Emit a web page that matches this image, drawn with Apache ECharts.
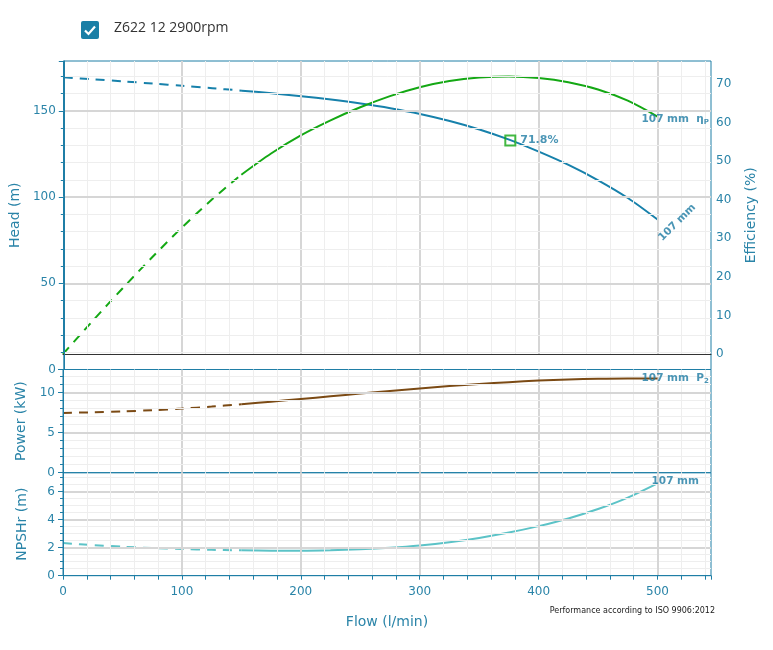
<!DOCTYPE html>
<html>
<head>
<meta charset="utf-8">
<script src="https://cdn.jsdelivr.net/npm/echarts@6/dist/echarts.min.js"></script>
<style>
  html, body { margin: 0; padding: 0; background: #ffffff; }
  #chart { width: 773px; height: 650px; }
</style>
</head>
<body>
<div id="chart"></div>
<script>
// ---- data ----
const flow       = [0, 25, 50, 75, 100, 125, 150, 175, 200, 225, 250, 275, 300, 325, 350, 375, 400, 425, 450, 475, 500];
const head       = [169.5, 168.4, 167.2, 165.9, 164.6, 163.2, 161.8, 160.3, 158.6, 156.6, 154.3, 151.6, 148.3, 144.2, 139.3, 133.4, 126.4, 118.7, 109.8, 99.5, 87.0];
const efficiency = [0, 8.6, 17.0, 25.1, 32.8, 40.0, 46.5, 52.0, 56.7, 60.6, 64.0, 66.9, 69.2, 70.8, 71.7, 72.0, 71.6, 70.5, 68.6, 65.7, 61.6];
const power      = [7.47, 7.55, 7.66, 7.81, 8.01, 8.26, 8.56, 8.88, 9.21, 9.55, 9.89, 10.22, 10.54, 10.83, 11.09, 11.32, 11.51, 11.65, 11.75, 11.79, 11.76];
const npsh       = [2.33, 2.19, 2.07, 1.98, 1.91, 1.85, 1.81, 1.79, 1.79, 1.82, 1.89, 2.00, 2.16, 2.39, 2.70, 3.08, 3.54, 4.09, 4.76, 5.58, 6.6];
const dashedUntil = 150;
const bepFlow = 376, bepHead = 132.9, bepLabel = '71.8%';
const legendText = 'Z622 12 2900rpm';
const curveLabel = '107 mm';
const headTicks = { min: 0, max: 179, interval: 50 };
const effTicks = { min: 0, max: 76, interval: 10 };
const powerTicks = { min: 0, max: 12.9, interval: 5 };
const npshTicks = { min: 0, max: 7.357, interval: 2 };
const flowTicks = { min: 0, max: 545, interval: 100 };

// ---- styles ----
const TEAL = '#1f7ea6';
const LABEL = '#2a84a8';
const CURVE_LABEL = '#1d7aa2';
const MAJOR = '#d6d6d6';
const MINOR = '#eeeeee';
const FONT = 'DejaVu Sans';

function pairs(vals, from, to) {
  const out = [];
  for (let i = 0; i < flow.length; i++) {
    if (flow[i] >= from && flow[i] <= to) out.push([flow[i], vals[i]]);
  }
  return out;
}
function curve(name, vals, color, xi, yi) {
  const common = { type: 'line', xAxisIndex: xi, yAxisIndex: yi, smooth: 0.3,
                   showSymbol: false, silent: true, z: 3 };
  return [
    Object.assign({ name: name + ' dashed', data: pairs(vals, 0, dashedUntil),
      lineStyle: { color: color, width: 2, type: [9, 7] } }, common),
    Object.assign({ name: name, data: pairs(vals, dashedUntil, Infinity),
      lineStyle: { color: color, width: 2 } }, common)
  ];
}
const last = a => a[a.length - 1];
const lblStyle = { color: CURVE_LABEL, fontFamily: FONT, fontWeight: 'bold', fontSize: 10.5 };

function valueX(gi, opts) {
  return Object.assign({
    type: 'value', gridIndex: gi, min: flowTicks.min, max: flowTicks.max, interval: flowTicks.interval,
    axisLine: { show: false }, axisTick: { show: false }, axisLabel: { show: false },
    splitLine: { show: true, showMinLine: false, showMaxLine: false, lineStyle: { color: MAJOR, width: 2 } },
    minorTick: { show: false, splitNumber: 5 },
    minorSplitLine: { show: true, lineStyle: { color: MINOR, width: 1 } }
  }, opts || {});
}
function leftY(gi, t, name, minorSplit, opts) {
  return Object.assign({
    type: 'value', gridIndex: gi, position: 'left', min: t.min, max: t.max, interval: t.interval,
    name: name, nameLocation: 'middle', nameGap: 34,
    nameTextStyle: { color: LABEL, fontFamily: FONT, fontSize: 14 },
    axisLine: { show: true, lineStyle: { color: TEAL, width: 1 } },
    axisTick: { show: true, length: 5, lineStyle: { color: TEAL } },
    minorTick: { show: true, splitNumber: minorSplit, length: 3, lineStyle: { color: TEAL } },
    axisLabel: { color: LABEL, fontFamily: FONT, fontSize: 12, margin: 8, showMaxLabel: false },
    splitLine: { show: true, showMinLine: false, showMaxLine: false, lineStyle: { color: MAJOR, width: 2 } },
    minorSplitLine: { show: true, lineStyle: { color: MINOR, width: 1 } },
    z: 5
  }, opts || {});
}

const chart = echarts.init(document.getElementById('chart'), null, { renderer: 'canvas' });
const option = {
  animation: false,
  backgroundColor: '#ffffff',
  grid: [
    { left: 63, right: 62, top: 61, height: 308.5, show: true, borderColor: TEAL, borderWidth: 1, backgroundColor: 'transparent' },
    { left: 63, right: 62, top: 61, height: 293, show: false },
    { left: 63, right: 62, top: 369.5, height: 103.2, show: true, borderColor: TEAL, borderWidth: 1, backgroundColor: 'transparent' },
    { left: 63, right: 62, top: 472.7, height: 103, show: true, borderColor: TEAL, borderWidth: 1, backgroundColor: 'transparent' }
  ],
  xAxis: [
    { type: 'value', gridIndex: 0, min: flowTicks.min, max: flowTicks.max, show: false },
    valueX(1, { axisLine: { show: true, onZero: false, lineStyle: { color: '#333333', width: 1 } }, z: 4 }),
    valueX(2),
    valueX(3, {
      axisLine: { show: true, onZero: false, lineStyle: { color: TEAL, width: 1 } },
      axisTick: { show: true, length: 4, lineStyle: { color: TEAL } },
      minorTick: { show: true, splitNumber: 5, length: 4, lineStyle: { color: TEAL } },
      axisLabel: { show: true, color: LABEL, fontFamily: FONT, fontSize: 12, margin: 10, showMaxLabel: false },
      name: 'Flow (l/min)', nameLocation: 'middle', nameGap: 40,
      nameTextStyle: { color: LABEL, fontFamily: FONT, fontSize: 14 }, z: 5
    })
  ],
  yAxis: [
    leftY(0, headTicks, 'Head (m)', 5),
    { type: 'value', gridIndex: 1, position: 'right', min: effTicks.min, max: effTicks.max, interval: effTicks.interval,
      axisLine: { show: true, lineStyle: { color: TEAL } }, axisTick: { show: false },
      axisLabel: { color: LABEL, fontFamily: FONT, fontSize: 12, margin: 5, showMaxLabel: false },
      splitLine: { show: false } },
    { type: 'value', gridIndex: 0, position: 'right', min: 0, max: 1,
      name: 'Efficiency (%)', nameLocation: 'middle', nameGap: 33,
      nameTextStyle: { color: LABEL, fontFamily: FONT, fontSize: 14 },
      axisLine: { show: false }, axisTick: { show: false }, axisLabel: { show: false }, splitLine: { show: false } },
    leftY(2, powerTicks, 'Power (kW)', 5),
    leftY(3, npshTicks, 'NPSHr (m)', 4)
  ],
  series: [].concat(
    curve('Head', head, '#1781ab', 0, 0),
    curve('Efficiency', efficiency, '#14a814', 1, 1),
    curve('Power', power, '#7b4a14', 2, 3),
    curve('NPSHr', npsh, '#5cc3c7', 3, 4),
    [
      { type: 'scatter', xAxisIndex: 0, yAxisIndex: 0, silent: true, z: 6,
        data: [[bepFlow, bepHead]], symbol: 'rect', symbolSize: 10,
        itemStyle: { color: 'rgba(255,255,255,0)', borderColor: '#14a814', borderWidth: 2 },
        label: { show: true, position: 'right', distance: 4, formatter: bepLabel,
                 color: CURVE_LABEL, fontFamily: FONT, fontWeight: 'bold', fontSize: 11 } },
      { type: 'scatter', xAxisIndex: 0, yAxisIndex: 0, silent: true, z: 6, symbolSize: 0.1,
        data: [{ value: [last(flow), last(head)],
                 label: Object.assign({ show: true, position: 'right', distance: 0, rotate: 45, offset: [-12, 16], formatter: curveLabel }, lblStyle) }] },
      { type: 'scatter', xAxisIndex: 1, yAxisIndex: 1, silent: true, z: 6, symbolSize: 0.1,
        data: [{ value: [last(flow), last(efficiency)],
                 label: Object.assign({ show: true, position: 'right', distance: 0, offset: [-16, 3],
                   formatter: '{a|' + curveLabel + '  η}{s|P}',
                   rich: { a: lblStyle, s: Object.assign({}, lblStyle, { fontSize: 7, padding: [6, 0, 0, 0] }) } }, lblStyle) }] },
      { type: 'scatter', xAxisIndex: 2, yAxisIndex: 3, silent: true, z: 6, symbolSize: 0.1,
        data: [{ value: [last(flow), last(power)],
                 label: Object.assign({ show: true, position: 'right', distance: 0, offset: [-16, 0],
                   formatter: '{a|' + curveLabel + '  P}{s|2}',
                   rich: { a: lblStyle, s: Object.assign({}, lblStyle, { fontSize: 7, padding: [6, 0, 0, 0] }) } }, lblStyle) }] },
      { type: 'scatter', xAxisIndex: 3, yAxisIndex: 4, silent: true, z: 6, symbolSize: 0.1,
        data: [{ value: [last(flow), last(npsh)],
                 label: Object.assign({ show: true, position: 'right', distance: 0, offset: [-6, -2], formatter: curveLabel }, lblStyle) }] }
    ]
  ),
  graphic: [
    { type: 'rect', left: 81, top: 21, shape: { width: 18, height: 18, r: 2 }, style: { fill: '#1a7fa6' } },
    { type: 'polyline', shape: { points: [[85, 30.5], [88.5, 34], [95, 26.5]] },
      style: { stroke: '#ffffff', lineWidth: 2.2, fill: null } },
    { type: 'text', left: 114, top: 21, style: { text: legendText, fill: '#333333', font: '14px "Open Sans"' } },
    { type: 'text', right: 58, top: 607, style: { text: 'Performance according to ISO 9906:2012', fill: '#1a1a1a', font: '8px "DejaVu Sans"' } }
  ]
};
chart.setOption(option);
</script>
</body>
</html>
